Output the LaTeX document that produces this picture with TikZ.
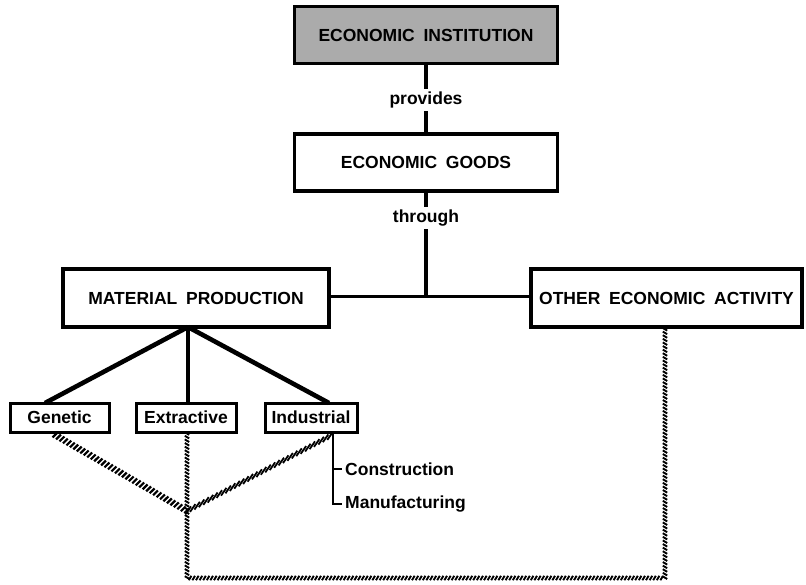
\documentclass[tikz,border=0pt]{standalone}
\usepackage{fontspec}
\setmainfont{Liberation Sans}
\usetikzlibrary{decorations.markings}

\newcommand{\lblfont}{\fontsize{17.5}{20}\selectfont\bfseries}
\newcommand{\wsp}{\hspace{0.5em}}

\tikzset{
  box/.style={draw, line width=3.2pt, inner sep=0pt, align=center, font=\lblfont},
  bigbox/.style={box, minimum width=263pt, minimum height=57pt},
  midbox/.style={box, minimum height=58pt},
  smallbox/.style={box, line width=3pt, minimum height=29pt},
  lbl/.style={inner sep=3pt, font=\lblfont},
  conn/.style={line width=4.6pt},
  thinconn/.style={line width=3pt},
  brk/.style={line width=2.8pt},
  hatchwide/.style={postaction={decorate}, decoration={markings,
      mark=between positions 0 and 1 step 4pt with
      {\draw[line width=2.2pt] (-0.9pt,-3.3pt) -- (0.9pt,3.3pt);}}},
  hatchrope/.style={postaction={decorate}, decoration={markings,
      mark=between positions 0 and 1 step 5pt with
      {\draw[line width=1.8pt] (-4.2pt,-2.2pt) -- (4.2pt,2.2pt);}}},
  hatchthin/.style={postaction={decorate}, decoration={markings,
      mark=between positions 0 and 1 step 3.6pt with
      {\draw[line width=1.9pt] (-1.3pt,-2.2pt) -- (1.3pt,2.2pt);}}}
}

\begin{document}
\begin{tikzpicture}[x=1pt, y=-1pt]
  \useasboundingbox[fill=white] (0,0) rectangle (806,584);

  % top of the hierarchy
  \node[bigbox, fill=black!33] (inst) at (426,35) {ECONOMIC\wsp INSTITUTION};
  \node[lbl] (provides) at (426,100) {provides};
  \node[bigbox] (goods) at (426,162.5) {ECONOMIC\wsp GOODS};
  \node[lbl] (through) at (426,218) {through};

  % the two kinds of activity
  \node[midbox, minimum width=266pt] (mp) at (196,298) {MATERIAL\wsp PRODUCTION};
  \node[midbox, minimum width=271pt] (oea) at (666.5,298) {OTHER\wsp ECONOMIC\wsp ACTIVITY};
  \coordinate (tjoin) at (426,296);

  % branches of material production
  \node[smallbox, minimum width=99pt] (gen) at (59.5,417.5) {Genetic};
  \node[smallbox, minimum width=100pt] (ext) at (186,417.5) {Extractive};
  \node[smallbox, minimum width=92pt] (ind) at (311,417.5) {Industrial};

  \node[lbl, anchor=west] (cons) at (342,469) {Construction};
  \node[lbl, anchor=west] (manu) at (342,504) {Manufacturing};

  % named points for the connectors
  \coordinate (fork) at (188,327);
  \coordinate (genTop) at (45,403);
  \coordinate (indTop) at (329,403);
  \coordinate (genLow) at (55,435);
  \coordinate (indLow) at (330,436);
  \coordinate (meet) at (187,511);
  \coordinate (brtop) at (333,432);
  \coordinate (lowL) at (187,578);
  \coordinate (lowR) at (665,578);

  % solid connectors
  \draw[conn] (inst) -- (provides);
  \draw[conn] (provides) -- (goods);
  \draw[conn] (goods) -- (through);
  \draw[conn] (through) -- (tjoin);
  \draw[thinconn] (mp.east |- tjoin) -- (oea.west |- tjoin);
  \draw[conn] (fork) -- (genTop);
  \draw[conn] (fork) -- (ext.north -| fork);
  \draw[conn] (fork) -- (indTop);
  \draw[brk] (brtop) |- (cons.west);
  \draw[brk] (brtop) |- (manu.west);

  % hatched links
  \path[hatchwide] (genLow) -- (meet);
  \path[hatchrope] (indLow) -- (meet);
  \path[hatchthin] (ext.south -| lowL) -- (lowL) -- (lowR) -- (oea.south -| lowR);
\end{tikzpicture}
\end{document}
